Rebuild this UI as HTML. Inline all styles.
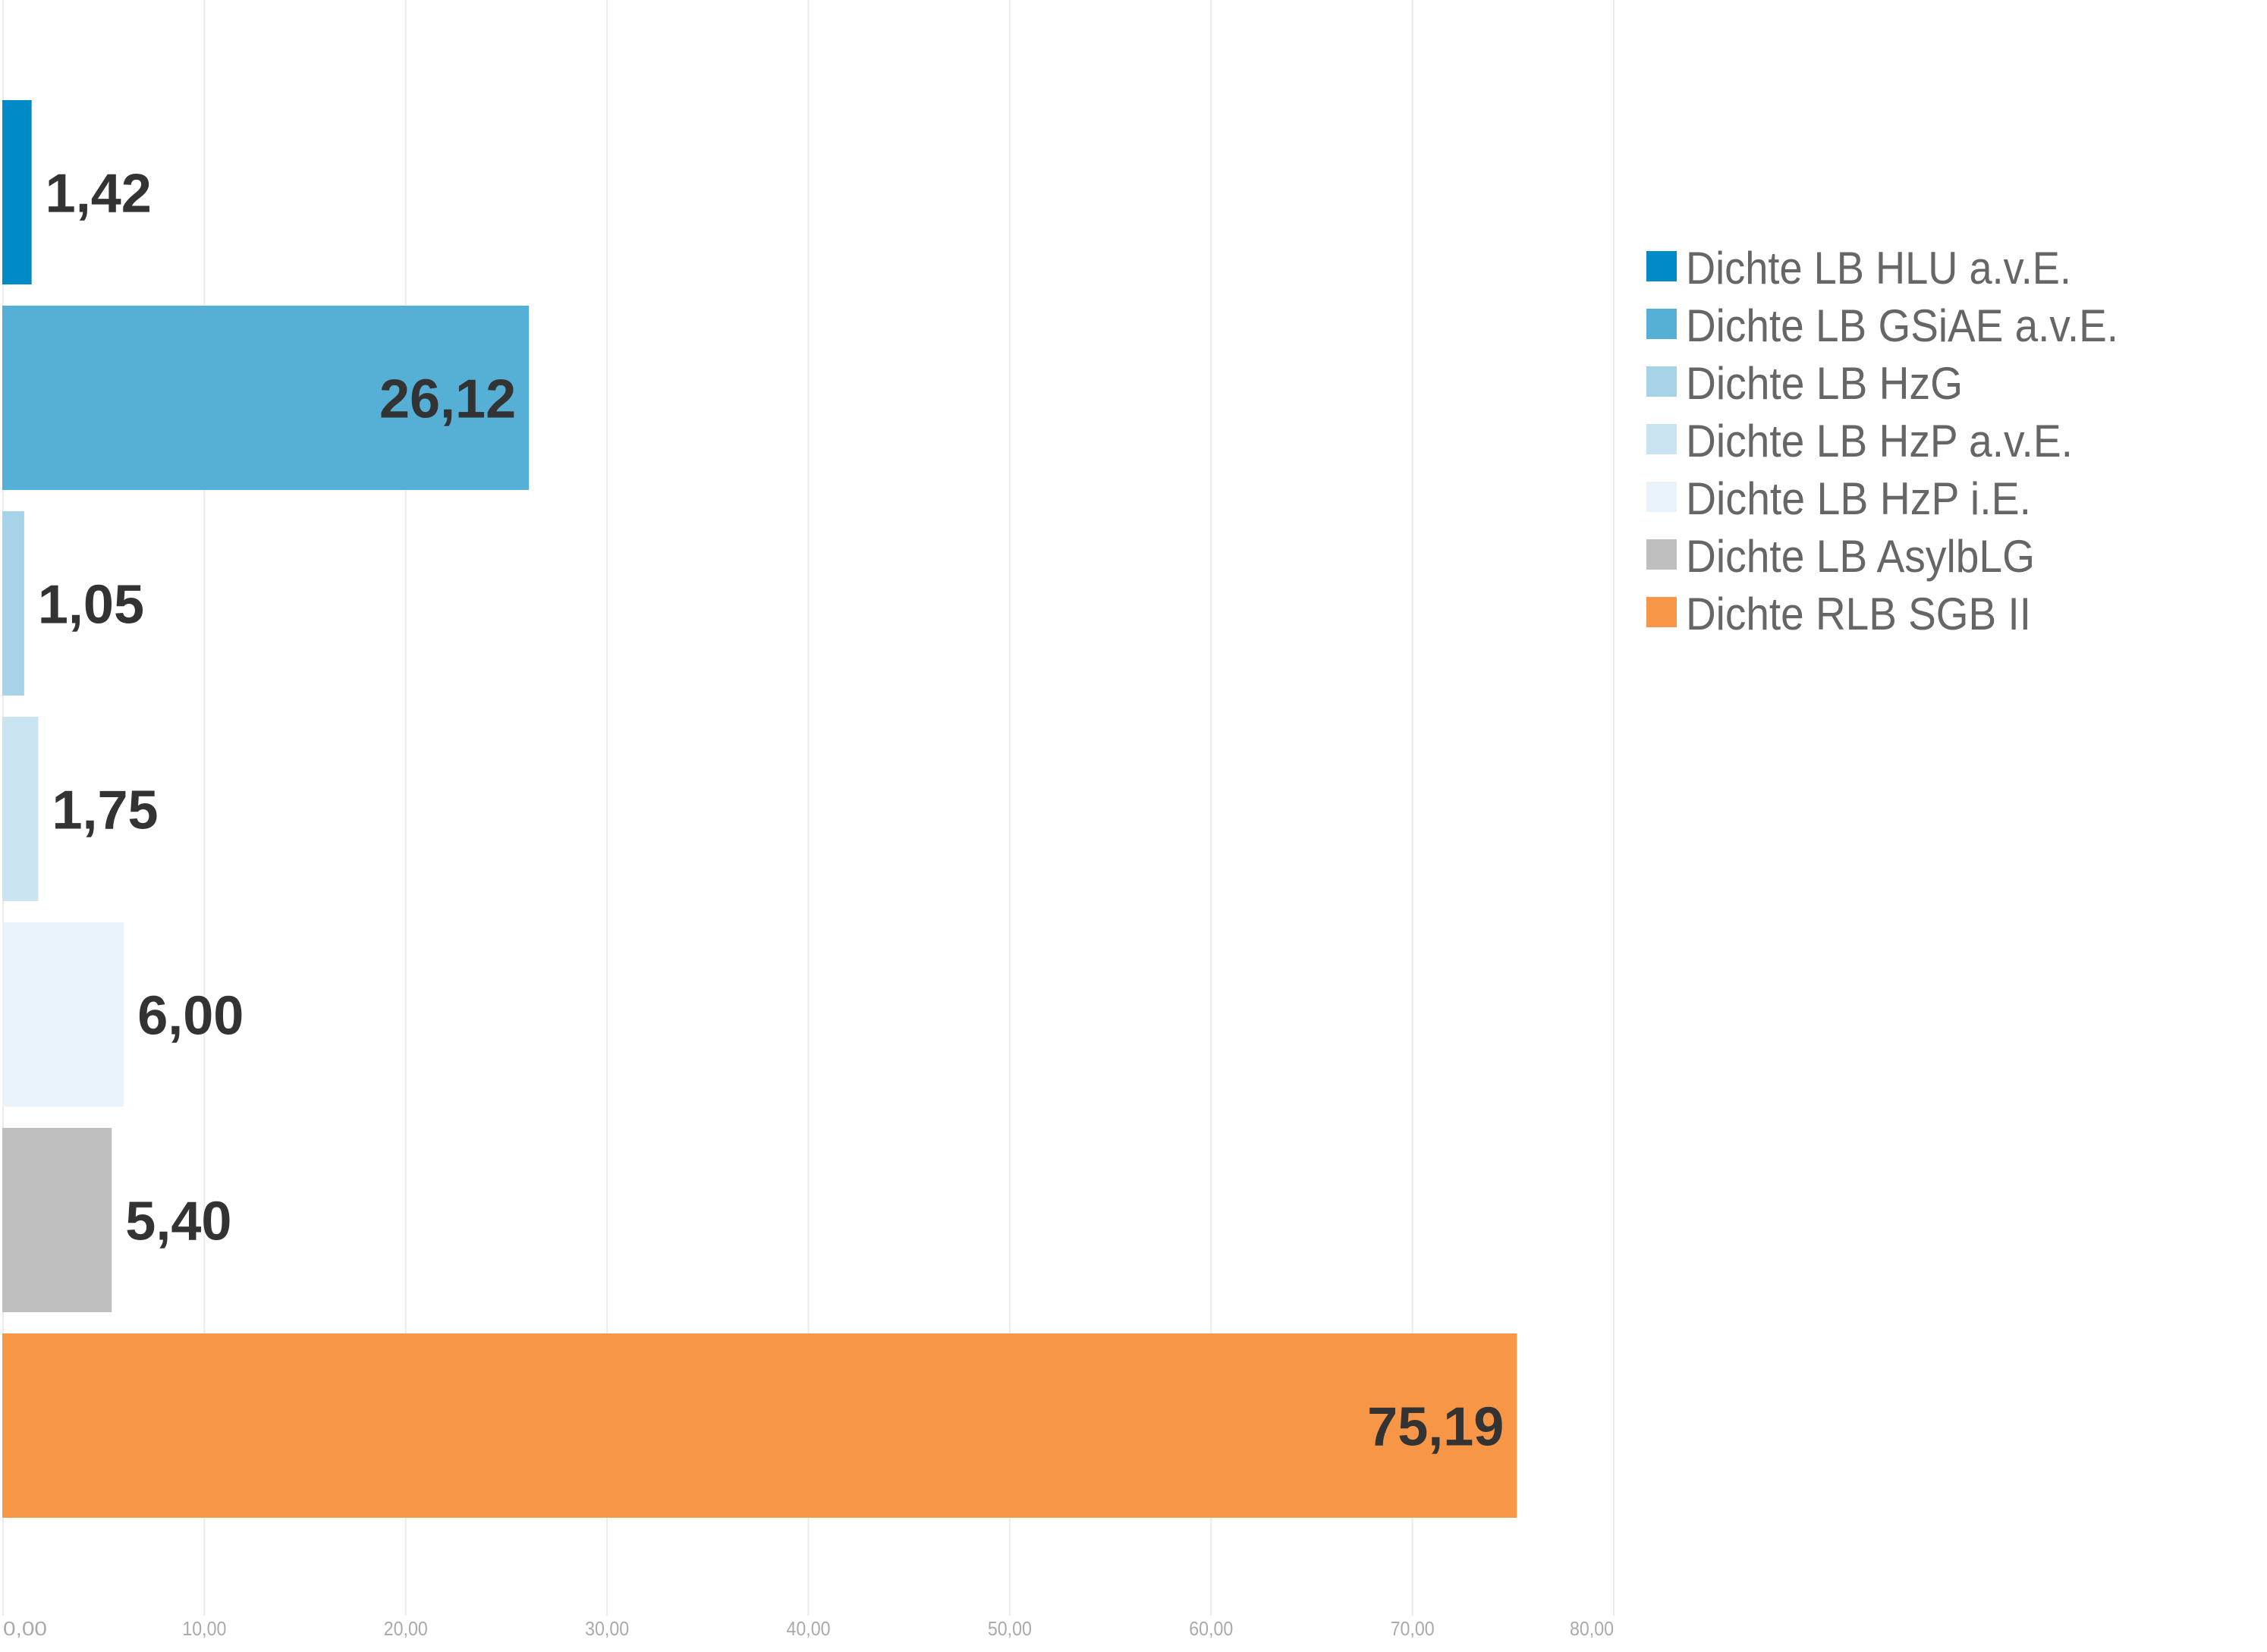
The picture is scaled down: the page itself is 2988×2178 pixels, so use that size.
<!DOCTYPE html>
<html><head><meta charset="utf-8"><style>
html,body{margin:0;padding:0;background:#fff;}
svg{display:block;}
</style></head><body>
<svg id="chart" width="2988" height="2178" viewBox="0 0 2988 2178" xmlns="http://www.w3.org/2000/svg" font-family="'Liberation Sans', sans-serif">
<g id="grid"></g>
<g id="bars"></g>
<g id="labels"></g>
<g id="xticks"></g>
<g id="legend"></g>
</svg>
<script>
const categories = ["Dichte LB HLU a.v.E.","Dichte LB GSiAE a.v.E.","Dichte LB HzG","Dichte LB HzP a.v.E.","Dichte LB HzP i.E.","Dichte LB AsylbLG","Dichte RLB SGB II"];
const values = [1.42, 26.12, 1.05, 1.75, 6.00, 5.40, 75.19];
const valueLabels = ["1,42","26,12","1,05","1,75","6,00","5,40","75,19"];
const colors = ["#008BC7","#56B0D6","#A6D3E8","#CBE4F1","#EAF3F9","#BFBFBF","#F79646"];
const tickValues = [0,10,20,30,40,50,60,70,80];
const tickLabels = ["0,00","10,00","20,00","30,00","40,00","50,00","60,00","70,00","80,00"];

const NS = "http://www.w3.org/2000/svg";
const X0 = 4, X1 = 2127, XMAX = 80;
const xs = v => X0 + (X1 - X0) * v / XMAX;
const TOP = 132, PITCH = 271, BH = 243;
const ys = i => TOP + i * PITCH;
function mk(tag, attrs, parent){const e=document.createElementNS(NS,tag);for(const k in attrs)e.setAttribute(k,attrs[k]);parent.appendChild(e);return e;}

const grid = document.getElementById('grid');
const xt = document.getElementById('xticks');
tickValues.forEach((v,i)=>{
  const l = mk('line',{x1:xs(v),x2:xs(v),y1:0,y2:2130,stroke:'#ebebeb','stroke-width':2},grid);
  
  
  const anchor = i===0?'start':(i===tickValues.length-1?'end':'middle');
  const t = mk('text',{x:xs(v),y:2156,'font-size':26,fill:'#aaaaaa','text-anchor':anchor,textLength:58,lengthAdjust:'spacingAndGlyphs'},xt);
  t.textContent = tickLabels[i];
  
  
});

const bars = document.getElementById('bars');
const labels = document.getElementById('labels');
values.forEach((v,i)=>{
  const w = xs(v) - X0;
  const r = mk('rect',{x:X0-1,y:ys(i),width:w+1,height:BH,fill:colors[i]},bars);
  
  
  const inside = w > 300;
  const t = mk('text',{x: inside ? xs(v)-17 : xs(v)+18, y: ys(i)+BH/2+26,'font-size':72,'font-weight':'bold',fill:'#333333','text-anchor': inside?'end':'start'},labels);
  t.textContent = valueLabels[i];
  
  
});

const legend = document.getElementById('legend');
const legendWidths = [508,570,365,510,455,460,455];
categories.forEach((c,i)=>{
  const y = 331 + i*76;
  const s = mk('rect',{x:2170,y:y,width:40,height:40,fill:colors[i]},legend);
  
  
  const t = mk('text',{x:2222,y:y+43,'font-size':60,fill:'#666666',textLength:legendWidths[i],lengthAdjust:'spacingAndGlyphs'},legend);
  t.textContent = c;
  
  
});
</script>
</body></html>
